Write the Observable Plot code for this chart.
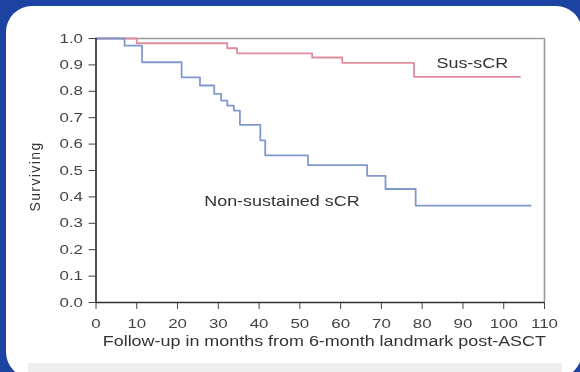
<!DOCTYPE html>
<html>
<head>
<meta charset="utf-8">
<script src="https://cdn.jsdelivr.net/npm/d3@7"></script>
<script src="https://cdn.jsdelivr.net/npm/@observablehq/plot@0.6"></script>
<style>
  html, body { margin: 0; padding: 0; background: #1d43a2; }
  #wrap { position: relative; width: 580px; height: 372px; overflow: hidden; background: #1d43a2; }
  #card { position: absolute; left: 6px; top: 6px; width: 576px; height: 372px; background: #ffffff; border-radius: 26px; }
  #strip { position: absolute; left: 28px; top: 363px; width: 534px; height: 12px; background: #eeeeee; }
  #chart { position: absolute; left: 0; top: 0; filter: blur(0.4px); }
</style>
</head>
<body>
<div id="wrap">
  <div id="card"></div>
  <div id="strip"></div>
  <div id="chart"></div>
</div>
<script>
// Sustained sCR (Kaplan–Meier steps)
const monthsSus = [0, 10, 32.2, 34.6, 53, 60.4, 78, 104];
const survSus   = [1, 0.982, 0.963, 0.944, 0.928, 0.908, 0.855, 0.855];
// Non-sustained sCR
const monthsNon = [0, 7, 11.3, 21, 25.5, 29, 30.7, 32.2, 33.8, 35.3, 40.3, 41.5, 52, 66.5, 71, 78.4, 106.6];
const survNon   = [1, 0.973, 0.91, 0.853, 0.822, 0.79, 0.765, 0.746, 0.727, 0.673, 0.614, 0.557, 0.52, 0.48, 0.43, 0.367, 0.367];

const xTicks = [0, 10, 20, 30, 40, 50, 60, 70, 80, 90, 100, 110];
const yTicks = [0, 0.1, 0.2, 0.3, 0.4, 0.5, 0.6, 0.7, 0.8, 0.9, 1.0];

const seriesLabels = [
  {x: 92.3, y: 0.905, text: "Sus-sCR"},
  {x: 45.6, y: 0.381, text: "Non-sustained sCR"}
];
const xTitle = "Follow-up in months from 6-month landmark post-ASCT";
const yTitle = "Surviving";

const sus = monthsSus.map((m, i) => ({m, s: survSus[i]}));
const non = monthsNon.map((m, i) => ({m, s: survNon[i]}));

const chart = Plot.plot({
  width: 580,
  height: 372,
  marginLeft: 95.5,
  marginRight: 36,
  marginTop: 38,
  marginBottom: 70,
  style: {background: "transparent", fontFamily: "'Liberation Sans', Arial, sans-serif", fontSize: "13px", color: "#444"},
  x: {domain: [0, 110]},
  y: {domain: [0, 1]},
  marks: [
    Plot.ruleY([1], {stroke: "#9a9a9a", strokeWidth: 1.6}),
    Plot.ruleX([110], {stroke: "#9a9a9a", strokeWidth: 1.6}),
    Plot.axisX({ticks: xTicks, tickSize: 7, tickPadding: 9, label: null, stroke: "#444"}),
    Plot.axisY({ticks: yTicks, tickFormat: d3.format(".1f"), tickSize: 7, tickPadding: 6, label: null, stroke: "#444"}),
    Plot.line(sus, {x: "m", y: "s", curve: "step-after", stroke: "#dd8d9d", strokeWidth: 1.8}),
    Plot.line(non, {x: "m", y: "s", curve: "step-after", stroke: "#7f99cf", strokeWidth: 1.8}),
    Plot.ruleX([0], {stroke: "#333", strokeWidth: 1.7}),
    Plot.ruleY([0], {stroke: "#333", strokeWidth: 1.7}),
    Plot.text(seriesLabels, {x: "x", y: "y", text: "text", fill: "#333", fontSize: 14}),
    Plot.text([xTitle], {x: 56, frameAnchor: "bottom", dy: 43, fill: "#333", fontSize: 14}),
    Plot.text([yTitle], {frameAnchor: "left", textAnchor: "middle", lineAnchor: "middle", dx: -60, dy: 6, rotate: -90, fill: "#333", fontSize: 14})
  ]
});

document.getElementById("chart").appendChild(chart);

// the reference's text is horizontally stretched; widen horizontal glyphs to match
d3.select(chart).selectAll("text").each(function() {
  const rot = (this.getAttribute("transform") || "").includes("rotate");
  if (rot) {
    this.setAttribute("letter-spacing", "1.4px");
    return;
  }
  const len = this.getComputedTextLength();
  if (len > 0) {
    const big = parseFloat(getComputedStyle(this).fontSize) >= 14;
    this.setAttribute("textLength", (len * (big ? 1.28 : 1.3)).toFixed(1));
    this.setAttribute("lengthAdjust", "spacingAndGlyphs");
  }
});
</script>
</body>
</html>
